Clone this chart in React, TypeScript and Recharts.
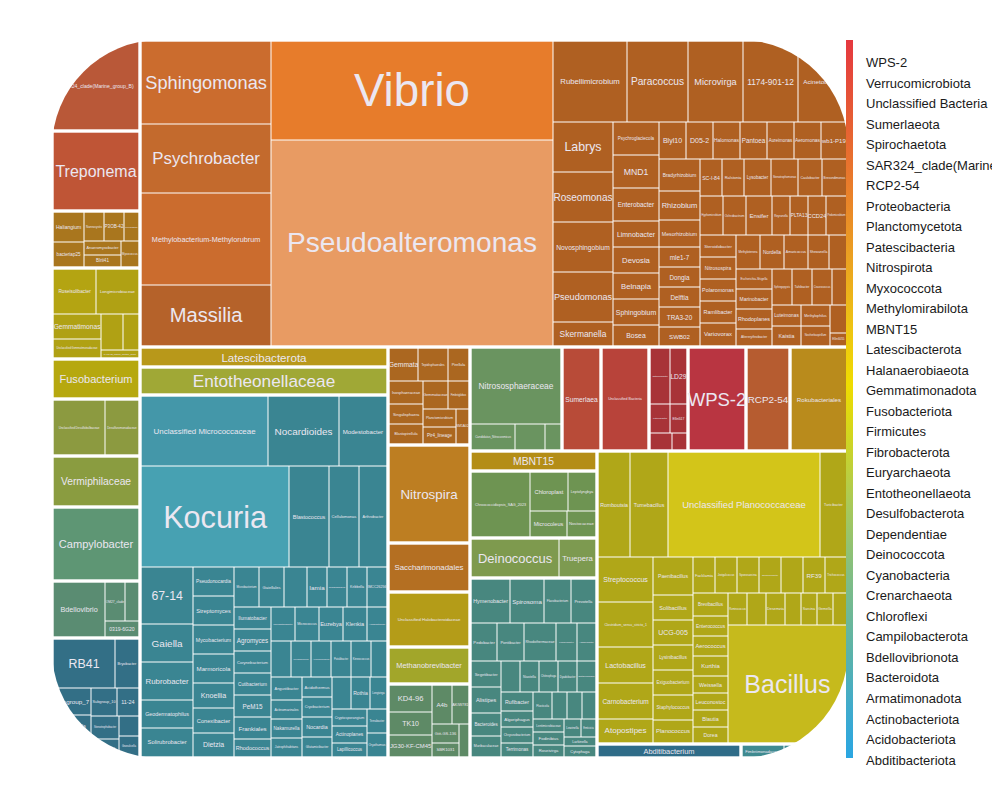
import React from 'react';
import { Treemap } from 'recharts';

// ---------------- DATA ----------------
// Legend order (top -> bottom)
const LEGEND_PHYLA: string[] = [
  'WPS-2', 'Verrucomicrobiota', 'Unclassified Bacteria', 'Sumerlaeota', 'Spirochaetota',
  'SAR324_clade(Marine_group_B)', 'RCP2-54', 'Proteobacteria', 'Planctomycetota', 'Patescibacteria',
  'Nitrospirota', 'Myxococcota', 'Methylomirabilota', 'MBNT15', 'Latescibacterota',
  'Halanaerobiaeota', 'Gemmatimonadota', 'Fusobacteriota', 'Firmicutes', 'Fibrobacterota',
  'Euryarchaeota', 'Entotheonellaeota', 'Desulfobacterota', 'Dependentiae', 'Deinococcota',
  'Cyanobacteria', 'Crenarchaeota', 'Chloroflexi', 'Campilobacterota', 'Bdellovibrionota',
  'Bacteroidota', 'Armatimonadota', 'Actinobacteriota', 'Acidobacteriota', 'Abditibacteriota',
];

type G = [string, number];

const SPIROCHAETOTA: G[] = [['Treponema', 7]];
const SAR324: G[] = [['SAR324_clade(Marine_group_B)', 8]];
const MYXOCOCCOTA: G[] = [
  ['Haliangium', 1], ['bacteriap25', 0.8], ['Nannocystis', 0.6], ['P3OB-42', 0.6],
  ['Polyangium', 0.5], ['Anaeromyxobacter', 0.5], ['BIrii41', 0.5], ['Myxococcus', 0.5],
];
const GEMMATIMONADOTA: G[] = [
  ['Roseisolibacter', 2], ['Longimicrobiaceae', 2], ['Gemmatimonas', 1.2],
  ['Unclassified Gemmatimonadaceae', 1], ['S0134_terrestrial_group', 0.8],
  ['BD2-11_terrestrial_group', 0.6], ['PAUC43f_marine_benthic_group', 0.4],
];
const FUSOBACTERIOTA: G[] = [['Fusobacterium', 3.5]];
const DESULFOBACTEROTA: G[] = [['Unclassified Desulfobulbaceae', 3], ['Desulfuromonadaceae', 2]];
const DEPENDENTIAE: G[] = [['Vermiphilaceae', 4.5]];
const CAMPILOBACTEROTA: G[] = [['Campylobacter', 6.5]];
const BDELLOVIBRIONOTA: G[] = [['Bdellovibrio', 3], ['OM27_clade', 0.8], ['Bacteriovorax', 0.6], ['0319-6G20', 0.6]];
const ACIDOBACTERIOTA: G[] = [
  ['RB41', 3], ['Bryobacter', 1.2], ['Subgroup_7', 1], ['Blastocatella', 0.8],
  ['Vicinamibacteraceae', 0.8], ['Subgroup_10', 0.7], ['11-24', 0.6], ['Stenotrophobacter', 0.6],
  ['Aridibacter', 0.5], ['Candidatus_Solibacter', 0.4], ['Granulicella', 0.4],
];
const PROTEOBACTERIA: G[] = [
  ['Sphingomonas', 11], ['Psychrobacter', 9], ['Methylobacterium-Methylorubrum', 12], ['Massilia', 8],
  ['Vibrio', 28], ['Pseudoalteromonas', 58],
  ['Rubellimicrobium', 6], ['Paracoccus', 5], ['Microvirga', 4.5], ['1174-901-12', 4.5],
  ['Acinetobacter', 4], ['Labrys', 3], ['Roseomonas', 3], ['Novosphingobium', 3], ['Pseudomonas', 3],
  ['Skermanella', 1.5], ['Psychroglaciecola', 1.5], ['MND1', 1.5], ['Enterobacter', 1.5],
  ['Limnobacter', 1.2], ['Devosia', 1.2], ['Belnapia', 1.2], ['Sphingobium', 1.2],
  ['Bosea', 1], ['Blyl10', 1], ['D05-2', 1], ['Halomonas', 1], ['Pantoea', 1], ['Aureimonas', 1],
  ['Aeromonas', 1], ['wb1-P19', 1], ['Bradyrhizobium', 1.3], ['Rhizobium', 1.2], ['Mesorhizobium', 1.1],
  ['mle1-7', 0.8], ['Dongia', 0.8], ['Delftia', 0.8], ['TRA3-20', 0.8], ['SWB02', 0.8], ['SC-I-84', 0.8],
  ['Ralstonia', 0.8], ['Lysobacter', 1], ['Stenotrophomonas', 1], ['Caulobacter', 0.9],
  ['Brevundimonas', 0.9], ['Hyphomicrobium', 0.9], ['Ochrobactrum', 0.9], ['Ensifer', 1],
  ['Reyranella', 0.7], ['PLTA13', 0.7], ['CCD24', 0.7],
  ['Pedomicrobium', 0.8], ['Steroidobacter', 0.8], ['Nitrosospira', 0.8], ['Polaromonas', 0.8],
  ['Ramlibacter', 0.8], ['Variovorax', 0.8], ['Methylotenera', 0.8], ['Nordella', 0.8], ['Amaricoccus', 0.8],
  ['Shewanella', 0.7], ['Photobacterium', 0.7],
  ['Escherichia-Shigella', 0.7], ['Marinobacter', 0.7], ['Rhodoplanes', 0.7], ['Altererythrobacter', 0.7],
  ['Sphingopyxis', 0.7], ['Tahibacter', 0.7], ['Craurococcus', 0.7], ['Pseudoxanthomonas', 0.6],
  ['Luteimonas', 0.6], ['Kaistia', 0.6],
  ['Methylophilus', 0.6], ['Noviherbaspirillum', 0.6], ['Allorhizobium', 0.5], ['Ellin6055', 0.5],
];
const LATESCIBACTEROTA: G[] = [['Latescibacterota', 5]];
const ENTOTHEONELLAEOTA: G[] = [['Entotheonellaceae', 7]];
const ACTINOBACTERIOTA: G[] = [
  ['Unclassified Micrococcaceae', 9], ['Nocardioides', 5], ['Modestobacter', 3.5], ['Kocuria', 15],
  ['Blastococcus', 4], ['Cellulomonas', 3], ['Arthrobacter', 3], ['67-14', 3], ['Gaiella', 2],
  ['Rubrobacter', 2], ['Geodermatophilus', 1.5], ['Solirubrobacter', 1.5], ['Pseudonocardia', 1.2],
  ['Streptomyces', 1.2], ['Mycobacterium', 1.2], ['Marmoricola', 1.2], ['Knoellia', 1], ['Conexibacter', 1],
  ['Dietzia', 1], ['Microbacterium', 1], ['Gaiellales', 1], ['Geodermatophilaceae', 0.9], ['Iamia', 0.8],
  ['Quadrisphaera', 0.8], ['Kribbella', 0.8], ['IMCC26256', 0.8], ['Ilumatobacter', 0.8], ['Agromyces', 0.8],
  ['Corynebacterium', 0.8], ['Cutibacterium', 0.8], ['PeM15', 0.8], ['Frankiales', 0.8], ['Rhodococcus', 0.8],
  ['Pseudarthrobacter', 0.8], ['Micrococcus', 0.8], ['Euzebya', 0.8], ['Klenkia', 0.8], ['Amnibacterium', 0.7],
  ['Brachybacterium', 0.7], ['Friedmanniella', 0.7], ['Aeromicrobium', 0.7], ['Patulibacter', 0.7],
  ['Kineococcus', 0.7], ['Micromonospora', 0.7], ['Angustibacter', 0.7], ['Actinomarinales', 0.6],
  ['Nakamurella', 0.6], ['Jatrophihabitans', 0.6], ['Acidothermus', 0.6], ['Cryobacterium', 0.6],
  ['Nocardia', 0.6], ['Glutamicibacter', 0.6], ['Paeniglutamicibacter', 0.6], ['Rothia', 0.6],
  ['Longivirga', 0.6], ['Cryptosporangium', 0.6], ['Actinoplanes', 0.6], ['Lapillicoccus', 0.5],
  ['Terrabacter', 0.5], ['Oryzihumus', 0.5],
];
const PLANCTOMYCETOTA: G[] = [
  ['Gemmata', 1], ['Tepidisphaerales', 1], ['Pirellula', 0.8], ['Isosphaeraceae', 0.8],
  ['Singulisphaera', 0.7], ['Blastopirellula', 0.7], ['Gemmataceae', 0.7], ['Fimbriiglobus', 0.6],
  ['Planctomicrobium', 0.6], ['Pir4_lineage', 0.6], ['SM1A02', 0.5],
];
const NITROSPIROTA: G[] = [['Nitrospira', 8]];
const PATESCIBACTERIA: G[] = [['Saccharimonadales', 4]];
const SUMERLAEOTA: G[] = [['Sumerlaea', 4]];
const UNCLASSIFIED_BACTERIA: G[] = [['Unclassified Bacteria', 5]];
const VERRUCOMICROBIOTA: G[] = [
  ['Chthoniobacter', 1.2], ['LD29', 1], ['Luteolibacter', 0.6], ['Ellin517', 0.5],
  ['Candidatus_Udaeobacter', 0.4], ['Verrucomicrobium', 0.3],
];
const WPS2: G[] = [['WPS-2', 6]];
const RCP2_54: G[] = [['RCP2-54', 4.5]];
const FIRMICUTES: G[] = [
  ['Romboutsia', 3.5], ['Tumebacillus', 4], ['Unclassified Planococcaceae', 16], ['Turicibacter', 3],
  ['Streptococcus', 2.5], ['Clostridium_sensu_stricto_1', 2.5], ['Lactobacillus', 2], ['Carnobacterium', 2],
  ['Atopostipes', 1.5], ['Paenibacillus', 1.5], ['Solibacillus', 1], ['UCG-005', 1], ['Lysinibacillus', 1],
  ['Exiguobacterium', 1], ['Staphylococcus', 1], ['Planococcus', 1], ['Facklamia', 0.8], ['Jeotgalicoccus', 0.8],
  ['Sporosarcina', 0.8], ['Terrisporobacter', 0.8], ['Christensenellaceae_R-7_group', 0.8], ['RF39', 0.8],
  ['Trichococcus', 0.8], ['Brevibacillus', 0.8], ['Enterococcus', 0.7], ['Aerococcus', 0.7], ['Kurthia', 0.7],
  ['Weissella', 0.6], ['Leuconostoc', 0.6], ['Blautia', 0.6], ['Dorea', 0.6], ['Ruminococcus', 0.6],
  ['Faecalibacterium', 0.6], ['Desemzia', 0.6], ['Oscillibacter', 0.5], ['Sarcina', 0.5], ['Gemella', 0.5],
  ['Dolosigranulum', 0.5], ['Bacillus', 14],
];
const METHYLOMIRABILOTA: G[] = [['Rokubacteriales', 6]];
const MBNT15: G[] = [['MBNT15', 2.5]];
const HALANAEROBIAEOTA: G[] = [['Unclassified Halobacteroidaceae', 4.5]];
const EURYARCHAEOTA: G[] = [['Methanobrevibacter', 3]];
const CHLOROFLEXI: G[] = [
  ['KD4-96', 1.2], ['TK10', 1], ['JG30-KF-CM45', 1], ['A4b', 0.8], ['AKIW781', 0.7],
  ['Gitt-GS-136', 0.5], ['SBR1031', 0.4], ['Roseiflexaceae', 0.4],
];
const CRENARCHAEOTA: G[] = [
  ['Nitrososphaeraceae', 7], ['Candidatus_Nitrocosmicus', 1.2], ['Candidatus_Nitrososphaera', 0.8],
  ['Nitrosopumilaceae', 0.5],
];
const CYANOBACTERIA: G[] = [
  ['Chroococcidiopsis_SAG_2023', 4], ['Chloroplast', 1.5], ['Leptolyngbya', 1.2], ['Microcoleus', 1],
  ['Nostocaceae', 0.8],
];
const DEINOCOCCOTA: G[] = [['Deinococcus', 3.5], ['Truepera', 1.5]];
const BACTEROIDOTA: G[] = [
  ['Hymenobacter', 1.8], ['Spirosoma', 1.5], ['Flavobacterium', 1.2], ['Prevotella', 1.2], ['Pedobacter', 1],
  ['Pontibacter', 1], ['Rhodothermaceae', 1.2], ['Flavisolibacter', 0.8], ['Adhaeribacter', 0.8],
  ['Segetibacter', 0.8], ['Alistipes', 0.8], ['Bacteroides', 0.7], ['Muribaculaceae', 0.7], ['Ferruginibacter', 0.6],
  ['Niastella', 0.6], ['Chitinophaga', 0.6], ['Dyadobacter', 0.6], ['Ohtaekwangia', 0.6], ['Rufibacter', 0.6],
  ['Algoriphagus', 0.5], ['Chryseobacterium', 0.5], ['Terrimonas', 0.5], ['Fluviicola', 0.5],
  ['Microscilla', 0.4], ['Cesiribacter', 0.4], ['Rikenellaceae_RC9_gut_group', 0.4], ['Lentimicrobiaceae', 0.4],
  ['Fodinibius', 0.4], ['Roseivirga', 0.4], ['Lewinella', 0.3], ['Emticicia', 0.3], ['Larkinella', 0.3],
  ['Cytophaga', 0.3],
];
const ABDITIBACTERIOTA: G[] = [['Abditibacterium', 2]];
const ARMATIMONADOTA: G[] = [['Fimbriimonadaceae', 0.6], ['Armatimonas', 0.4]];
const FIBROBACTEROTA: G[] = [['Fibrobacter', 0.5]];

// order in which phyla are handed to the treemap
const PHYLUM_ORDER: [string, G[]][] = [
  ['SAR324_clade(Marine_group_B)', SAR324],
  ['Spirochaetota', SPIROCHAETOTA],
  ['Myxococcota', MYXOCOCCOTA],
  ['Gemmatimonadota', GEMMATIMONADOTA],
  ['Fusobacteriota', FUSOBACTERIOTA],
  ['Desulfobacterota', DESULFOBACTEROTA],
  ['Dependentiae', DEPENDENTIAE],
  ['Campilobacterota', CAMPILOBACTEROTA],
  ['Bdellovibrionota', BDELLOVIBRIONOTA],
  ['Acidobacteriota', ACIDOBACTERIOTA],
  ['Proteobacteria', PROTEOBACTERIA],
  ['Latescibacterota', LATESCIBACTEROTA],
  ['Entotheonellaeota', ENTOTHEONELLAEOTA],
  ['Actinobacteriota', ACTINOBACTERIOTA],
  ['Planctomycetota', PLANCTOMYCETOTA],
  ['Nitrospirota', NITROSPIROTA],
  ['Patescibacteria', PATESCIBACTERIA],
  ['Halanaerobiaeota', HALANAEROBIAEOTA],
  ['Euryarchaeota', EURYARCHAEOTA],
  ['Chloroflexi', CHLOROFLEXI],
  ['Crenarchaeota', CRENARCHAEOTA],
  ['Sumerlaeota', SUMERLAEOTA],
  ['Unclassified Bacteria', UNCLASSIFIED_BACTERIA],
  ['Verrucomicrobiota', VERRUCOMICROBIOTA],
  ['WPS-2', WPS2],
  ['RCP2-54', RCP2_54],
  ['Methylomirabilota', METHYLOMIRABILOTA],
  ['MBNT15', MBNT15],
  ['Cyanobacteria', CYANOBACTERIA],
  ['Deinococcota', DEINOCOCCOTA],
  ['Bacteroidota', BACTEROIDOTA],
  ['Firmicutes', FIRMICUTES],
  ['Abditibacteriota', ABDITIBACTERIOTA],
  ['Armatimonadota', ARMATIMONADOTA],
  ['Fibrobacterota', FIBROBACTEROTA],
];

// ---------------- STYLE ----------------
const PHYLUM_COLORS: Record<string, string> = {
  'WPS-2': '#b93541', 'Verrucomicrobiota': '#a83338', 'Unclassified Bacteria': '#b8433a',
  'Sumerlaeota': '#b84b38', 'Spirochaetota': '#bf5536', 'SAR324_clade(Marine_group_B)': '#b95838',
  'RCP2-54': '#b65c30', 'Proteobacteria': '#af6022', 'Planctomycetota': '#ab6720',
  'Patescibacteria': '#b46f22', 'Nitrospirota': '#bd7e22', 'Myxococcota': '#a9761e',
  'Methylomirabilota': '#b98b1c', 'MBNT15': '#b48d16', 'Latescibacterota': '#b8981a',
  'Halanaerobiaeota': '#b49c18', 'Gemmatimonadota': '#b0a114', 'Fusobacteriota': '#b6a80f',
  'Firmicutes': '#b0a718', 'Fibrobacterota': '#a8aa2e', 'Euryarchaeota': '#a2a62a',
  'Entotheonellaeota': '#a0a836', 'Desulfobacterota': '#8c9a40', 'Dependentiae': '#8a9c40',
  'Deinococcota': '#7d9a50', 'Cyanobacteria': '#6e9452', 'Crenarchaeota': '#6a9460',
  'Chloroflexi': '#5e8a66', 'Campilobacterota': '#5e9674', 'Bdellovibrionota': '#5a8c72',
  'Bacteroidota': '#48877f', 'Armatimonadota': '#3f8a90', 'Actinobacteriota': '#3a8592',
  'Acidobacteriota': '#336f86', 'Abditibacteriota': '#2f6c88',
};
const GENUS_COLORS: Record<string, string> = {
  'Vibrio': '#e77c2b', 'Pseudoalteromonas': '#e89b63', 'Sphingomonas': '#cb6c2e',
  'Methylobacterium-Methylorubrum': '#cb6c2e', 'Psychrobacter': '#c36a2d', 'Massilia': '#b5622a',
  'Kocuria': '#47a1b2', 'Unclassified Micrococcaceae': '#4497a9', 'Bacillus': '#c6ba1c',
  'Unclassified Planococcaceae': '#d3c519', 'Roseisolibacter': '#b4a412', 'Deinococcus': '#7e9a4e',
};
const LABEL_SCALE: Record<string, number> = { 'Vibrio': 1.2, 'Bacillus': 1.25, 'WPS-2': 1.4, 'Kocuria': 1.1 };
const LABEL_COLOR = '#ebe7f1';
const FONT = 'Arial, "Liberation Sans", Helvetica, sans-serif';

const treeData = PHYLUM_ORDER.map(([phylum, genera]) => ({
  name: phylum,
  children: genera.map(([name, size]) => ({ name, size, phylum })),
}));

const parentRects: Record<string, { x: number; y: number; width: number; height: number }> = {};

function CellContent(props: any) {
  const { depth, x, y, width, height, name, phylum, root } = props;
  if (depth === 1) {
    parentRects[name] = { x, y, width, height };
    return <g />;
  }
  if (depth !== 2) return <g />;
  const parent =
    (root && root.children && root.children.find((c: any) => c.name === phylum)) || parentRects[phylum];
  const thin = 0.5;
  const thick = 1.7;
  const near = (a: number, b: number) => Math.abs(a - b) < 0.6;
  const l = parent && near(x, parent.x) ? thick : thin;
  const t = parent && near(y, parent.y) ? thick : thin;
  const r = parent && near(x + width, parent.x + parent.width) ? thick : thin;
  const b = parent && near(y + height, parent.y + parent.height) ? thick : thin;
  const rx = x + l;
  const ry = y + t;
  const rw = Math.max(0, width - l - r);
  const rh = Math.max(0, height - t - b);
  const fill = GENUS_COLORS[name] || PHYLUM_COLORS[phylum] || '#888';
  const len = String(name).length;
  const scale = LABEL_SCALE[name] || 1;
  const fs = Math.min(0.23 * scale * Math.sqrt(rw * rh), (1.7 * rw) / len, 0.7 * rh, 50);
  return (
    <g>
      <rect x={rx} y={ry} width={rw} height={rh} fill={fill} stroke="none" />
      {fs >= 2.2 ? (
        <text
          x={rx + rw / 2}
          y={ry + rh / 2}
          textAnchor="middle"
          dominantBaseline="central"
          fontSize={fs}
          fill={LABEL_COLOR}
          fontFamily={FONT}
        >
          {name}
        </text>
      ) : null}
    </g>
  );
}

const GRADIENT =
  'linear-gradient(to bottom, #e5383f 0%, #e65a35 10%, #e97c2b 20%, #eba022 30%, #eec413 40%, #efdc00 48%, #d2d61e 55%, #a8c95a 65%, #80bd85 75%, #5cb3a8 85%, #40abcc 93%, #2aa6e2 100%)';

export default function App() {
  return (
    <div style={{ position: 'relative', width: 992, height: 784, overflow: 'hidden', background: '#fff' }}>
      <div
        style={{
          position: 'absolute',
          left: 44,
          top: 32,
          width: 796,
          height: 718,
          borderRadius: 108,
          overflow: 'hidden',
        }}
      >
        <Treemap
          width={796}
          height={718}
          data={treeData}
          dataKey="size"
          nameKey="name"
          isAnimationActive={false}
          content={<CellContent />}
        />
      </div>
      <div
        style={{
          position: 'absolute',
          left: 838,
          top: 32,
          width: 7,
          height: 718,
          background: GRADIENT,
        }}
      />
      <div
        style={{
          position: 'absolute',
          left: 858,
          top: 45,
          display: 'flex',
          flexDirection: 'column',
          fontFamily: FONT,
          fontSize: 13,
          color: '#1a1a1a',
          whiteSpace: 'nowrap',
        }}
      >
        {LEGEND_PHYLA.map((p) => (
          <div key={p} style={{ height: 20.53, lineHeight: '20.53px' }}>
            {p}
          </div>
        ))}
      </div>
    </div>
  );
}
